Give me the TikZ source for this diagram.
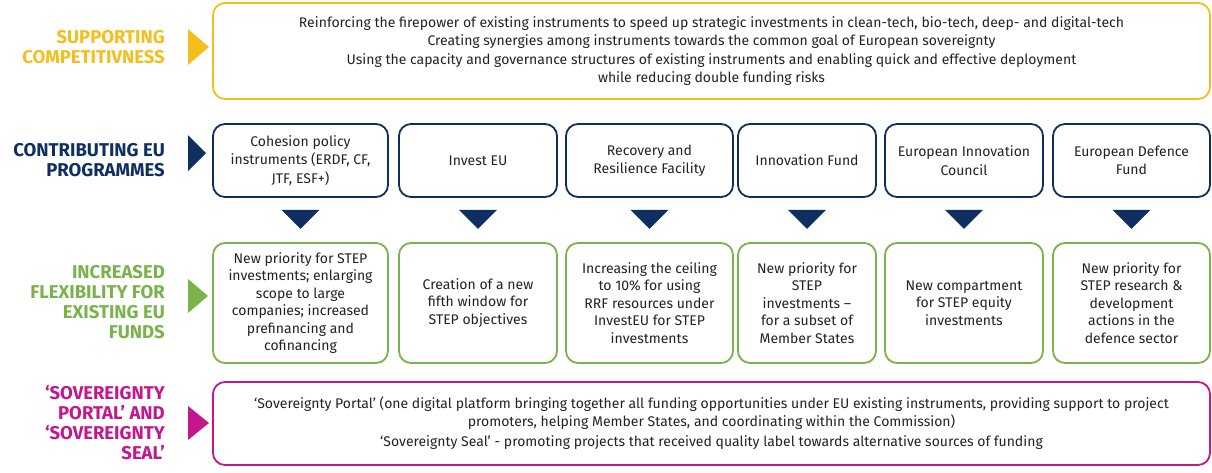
\documentclass[tikz,border=0pt]{standalone}
\usepackage{fontspec}
\setmainfont{Fira Sans}
\usetikzlibrary{calc}
\definecolor{euyellow}{HTML}{F4BE1E}
\definecolor{eunavy}{HTML}{0E2F5F}
\definecolor{eugreen}{HTML}{7AB24C}
\definecolor{eumagenta}{HTML}{C4178C}
\definecolor{txt}{HTML}{222222}
\begin{document}
\begin{tikzpicture}[x=1pt,y=-1pt,
  box/.style={draw, line width=1.8pt, rounded corners=12pt, align=center, text=txt,
    font=\fontsize{14}{17.5}\selectfont, inner sep=0pt},
  ybox/.style={box, draw=euyellow, font=\fontsize{14}{18.3}\selectfont},
  nbox/.style={box, draw=eunavy, minimum height=73pt, font=\fontsize{14}{18.5}\selectfont},
  gbox/.style={box, draw=eugreen, minimum height=120pt},
  mbox/.style={box, draw=eumagenta},
  lab/.style={anchor=east, align=right, inner sep=0pt, font=\fontsize{18.5}{20}\selectfont\bfseries},
  dtri/.style={fill=eunavy}
]
\useasboundingbox (0,0) rectangle (1212,472);

% labels
\node[lab, text=euyellow] (l1) at (165,47) {SUPPORTING\\COMPETITIVNESS};
\node[lab, text=eunavy] (l2) at (165,160) {CONTRIBUTING EU\\PROGRAMMES};
\node[lab, text=eugreen] (l3) at (165,302) {INCREASED\\FLEXIBILITY FOR\\EXISTING EU\\FUNDS};
\node[lab, text=eumagenta] (l4) at (165,423) {‘SOVEREIGNTY\\PORTAL’ AND\\‘SOVEREIGNTY\\SEAL’};

% side triangles
\fill[euyellow] (188,29) -- (209,47) -- (188,65) -- cycle;
\fill[eunavy] (188,135) -- (206,153) -- (188,171) -- cycle;
\fill[eugreen] (188,279) -- (208,296) -- (188,313) -- cycle;
\fill[eumagenta] (188,406) -- (209,423) -- (188,440) -- cycle;

% top box
\node[ybox, minimum width=997pt, minimum height=96pt] (top) at (711.5,51) {Reinforcing the firepower of existing instruments to speed up strategic investments in clean-tech, bio-tech, deep- and digital-tech\\Creating synergies among instruments towards the common goal of European sovereignty\\Using the capacity and governance structures of existing instruments and enabling quick and effective deployment\\while reducing double funding risks};

% programmes
\node[nbox, minimum width=175pt] (p1) at (300.5,160.5) {Cohesion policy\\instruments (ERDF, CF,\\JTF, ESF+)};
\node[nbox, minimum width=158pt] (p2) at (478,160.5) {Invest EU};
\node[nbox, minimum width=167pt] (p3) at (649.5,160.5) {Recovery and\\Resilience Facility};
\node[nbox, minimum width=138pt] (p4) at (807,160.5) {Innovation Fund};
\node[nbox, minimum width=158pt] (p5) at (964,160.5) {European Innovation\\Council};
\node[nbox, minimum width=157pt] (p6) at (1131.5,160.5) {European Defence\\Fund};

% flexibility
\node[gbox, minimum width=175pt] (f1) at (300.5,303) {New priority for STEP\\investments; enlarging\\scope to large\\companies; increased\\prefinancing and\\cofinancing};
\node[gbox, minimum width=158pt] (f2) at (478,303) {Creation of a new\\fifth window for\\STEP objectives};
\node[gbox, minimum width=167pt] (f3) at (649.5,303) {Increasing the ceiling\\to 10\% for using\\RRF resources under\\InvestEU for STEP\\investments};
\node[gbox, minimum width=138pt] (f4) at (807,303) {New priority for\\STEP\\investments –\\for a subset of\\Member States};
\node[gbox, minimum width=158pt] (f5) at (964,303) {New compartment\\for STEP equity\\investments};
\node[gbox, minimum width=157pt] (f6) at (1131.5,303) {New priority for\\STEP research \&\\development\\actions in the\\defence sector};

% down triangles
\foreach \p in {p1,p2,p3,p4,p5,p6}{
  \fill[dtri] ($(\p.south)+(-19,12)$) -- ++(38,0) -- ++(-19,19) -- cycle;
}

% bottom box
\node[mbox, minimum width=997pt, minimum height=83pt] (sov) at (711.5,423.5) {‘Sovereignty Portal’ (one digital platform bringing together all funding opportunities under EU existing instruments, providing support to project\\promoters, helping Member States, and coordinating within the Commission)\\[3pt]‘Sovereignty Seal’ - promoting projects that received quality label towards alternative sources of funding};
\end{tikzpicture}
\end{document}
